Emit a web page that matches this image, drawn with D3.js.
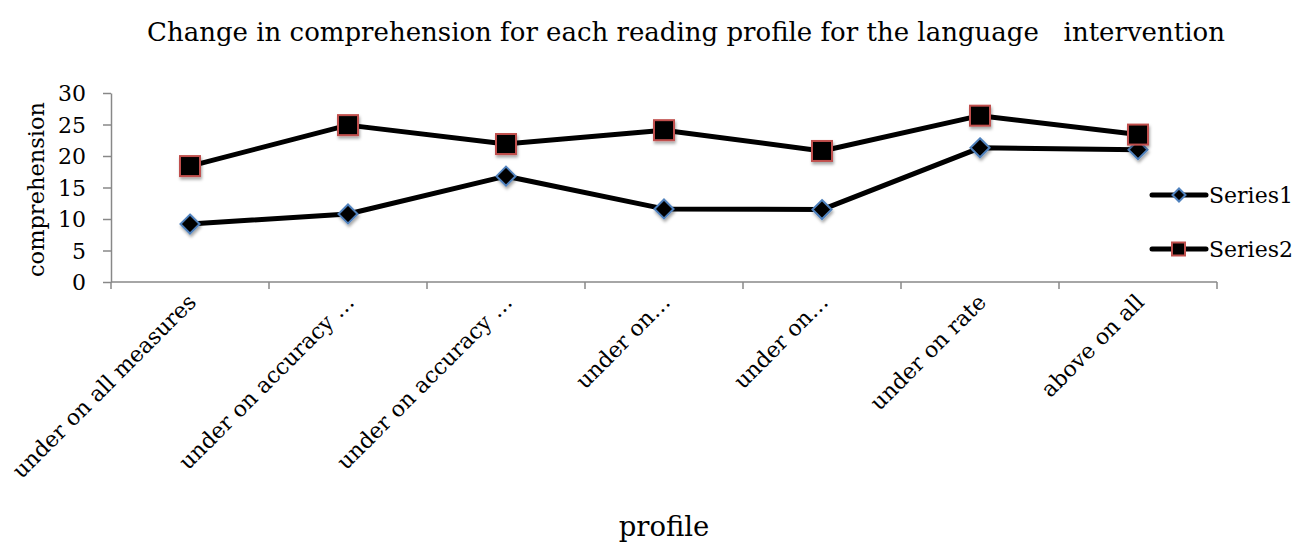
<!DOCTYPE html>
<html>
<head>
<meta charset="utf-8">
<script src="https://cdn.jsdelivr.net/npm/d3@7"></script>
<style>
  html, body { margin: 0; padding: 0; background: #fff; }
  svg { display: block; }
  text { font-family: "DejaVu Serif", "Liberation Serif", serif; fill: #000; }
</style>
</head>
<body>
<svg id="chart" width="1308" height="546"></svg>
<script>
// Reading profiles (x categories)
const categories = [
  "under on all measures",
  "under on accuracy …",
  "under on accuracy …",
  "under on…",
  "under on…",
  "under on rate",
  "above on all"
];
// Comprehension change per profile
const series1 = [9.2, 10.8, 16.8, 11.6, 11.5, 21.3, 21.0];
const series2 = [18.4, 24.9, 21.9, 24.1, 20.8, 26.4, 23.4];
const seriesNames = ["Series1", "Series2"];
const yTicks = [0, 5, 10, 15, 20, 25, 30];

const svg = d3.select("#chart");
const plotLeft = 111, plotRight = 1217, plotTop = 93, plotBottom = 282;

const x = d3.scaleBand().domain(d3.range(categories.length)).range([plotLeft, plotRight]).padding(0);
const y = d3.scaleLinear().domain([0, 30]).range([plotBottom, plotTop]);
const cx = i => x(i) + x.bandwidth() / 2;

// marker shadow
const defs = svg.append("defs");
const f = defs.append("filter").attr("id", "shadow")
  .attr("x", "-50%").attr("y", "-50%").attr("width", "200%").attr("height", "200%");
f.append("feDropShadow").attr("dx", 1).attr("dy", 2.5).attr("stdDeviation", 1.6)
  .attr("flood-color", "#000").attr("flood-opacity", 0.35);

// title
svg.append("text")
  .attr("x", 686).attr("y", 41)
  .attr("text-anchor", "middle")
  .style("font-size", "26px")
  .style("white-space", "pre")
  .text("Change in comprehension for each reading profile for the language   intervention");

// y axis
const yAxis = svg.append("g").attr("transform", `translate(${plotLeft},0)`)
  .call(d3.axisLeft(y).tickValues(yTicks).tickSize(8).tickPadding(17).tickSizeOuter(0));
yAxis.select(".domain").attr("stroke", "#888").attr("stroke-width", 1.5);
yAxis.selectAll(".tick line").attr("stroke", "#888").attr("stroke-width", 1.5);
yAxis.selectAll(".tick text").style("font-size", "22px").style("font-family", "DejaVu Serif").attr("dy", "0.36em");

// y axis title
svg.append("text")
  .attr("transform", `translate(44,${(plotTop + plotBottom) / 2 + 2}) rotate(-90)`)
  .attr("text-anchor", "middle")
  .style("font-size", "22.5px")
  .text("comprehension");

// x axis line and boundary ticks
const xg = svg.append("g");
xg.append("line").attr("x1", plotLeft).attr("x2", plotRight).attr("y1", plotBottom).attr("y2", plotBottom)
  .attr("stroke", "#888").attr("stroke-width", 1.5);
const edges = categories.map((_, i) => x(i)).concat([plotRight]);
xg.selectAll("line.tk").data(edges).join("line").attr("class", "tk")
  .attr("x1", d => d).attr("x2", d => d).attr("y1", plotBottom).attr("y2", plotBottom + 7)
  .attr("stroke", "#888").attr("stroke-width", 1.5);

// x tick labels, rotated
xg.selectAll("text.lbl").data(categories).join("text").attr("class", "lbl")
  .attr("transform", (d, i) => `translate(${cx(i) + 2},${plotBottom + 16}) rotate(-45)`)
  .attr("text-anchor", "end")
  .attr("dy", "0.35em")
  .style("font-size", "22px")
  .text(d => d);

// x axis title
svg.append("text")
  .attr("x", 664).attr("y", 536)
  .attr("text-anchor", "middle")
  .style("font-size", "27.5px")
  .text("profile");

// lines
const line = d3.line().x((d, i) => cx(i)).y(d => y(d));
[series1, series2].forEach(s => {
  svg.append("path").datum(s).attr("d", line)
    .attr("fill", "none").attr("stroke", "#000").attr("stroke-width", 5)
    .attr("stroke-linejoin", "round");
});

// markers
const diamond = r => `M0,${-r}L${r},0L0,${r}L${-r},0Z`;
svg.append("g").selectAll("path").data(series1).join("path")
  .attr("d", diamond(9.5))
  .attr("transform", (d, i) => `translate(${cx(i)},${y(d)})`)
  .attr("fill", "#000").attr("stroke", "#4f81bd").attr("stroke-width", 2)
  .attr("filter", "url(#shadow)");
svg.append("g").selectAll("rect").data(series2).join("rect")
  .attr("x", (d, i) => cx(i) - 10).attr("y", d => y(d) - 10)
  .attr("width", 20).attr("height", 20)
  .attr("fill", "#000").attr("stroke", "#c0504d").attr("stroke-width", 2)
  .attr("filter", "url(#shadow)");

// legend
const leg = svg.append("g");
const legY = [195, 249];
seriesNames.forEach((name, k) => {
  const g = leg.append("g").attr("transform", `translate(0,${legY[k]})`);
  g.append("line").attr("x1", 1152).attr("x2", 1206).attr("y1", 0).attr("y2", 0)
    .attr("stroke", "#000").attr("stroke-width", 5).attr("stroke-linecap", "round");
  if (k === 0) {
    g.append("path").attr("d", diamond(6.5)).attr("transform", "translate(1179,0)")
      .attr("fill", "#000").attr("stroke", "#4f81bd").attr("stroke-width", 2);
  } else {
    g.append("rect").attr("x", 1172).attr("y", -6.5).attr("width", 13).attr("height", 13)
      .attr("fill", "#000").attr("stroke", "#c0504d").attr("stroke-width", 2);
  }
  g.append("text").attr("x", 1209).attr("y", 0).attr("dy", "0.35em")
    .style("font-size", "22px").text(name);
});
</script>
</body>
</html>
